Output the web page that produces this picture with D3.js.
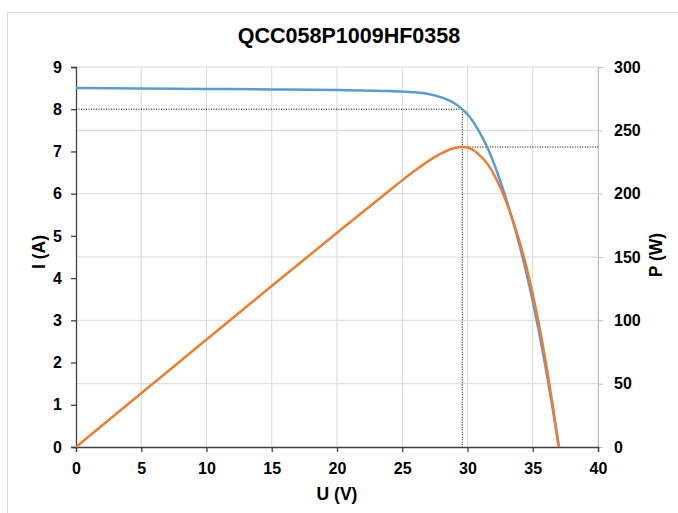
<!DOCTYPE html>
<html>
<head>
<meta charset="utf-8">
<script src="https://d3js.org/d3.v7.min.js"></script>
<style>
  body { margin: 0; background: #fff; }
  text { font-family: "Liberation Sans", Arial, sans-serif; font-weight: bold; fill: #000; }
</style>
</head>
<body>
<script type="text/javascript">
	"use strict";

	// values
	var voltage = [0, 5, 10, 15, 20, 24, 25, 26, 27, 28, 29, 29.6, 30, 30.8, 31.6, 32.6, 33, 34, 34.5, 35, 35.4, 36, 36.5, 37];
	var current = [8.50, 8.49, 8.48, 8.47, 8.455, 8.43, 8.42, 8.40, 8.36, 8.28, 8.14, 8.00, 7.88, 7.52, 7.04, 6.22, 5.84, 4.76, 4.14, 3.45, 2.85, 1.86, 0.96, 0];
	var power   = [0, 42.5, 84.8, 127.1, 169.1, 202.3, 210.5, 218.4, 225.7, 231.8, 236.1, 236.8, 236.4, 231.6, 222.5, 202.8, 192.7, 161.8, 142.8, 120.8, 100.9, 67.0, 35.0, 0];
	var mpp = { u: 29.6, i: 8.0, p: 236.8 };

	var uTicks = [0, 5, 10, 15, 20, 25, 30, 35, 40];
	var iTicks = [0, 1, 2, 3, 4, 5, 6, 7, 8, 9];
	var pTicks = [0, 50, 100, 150, 200, 250, 300];

	var W = 678, H = 513;
	var m = { left: 76, right: 598, top: 67, bottom: 447 };

	var svg = d3.select("body").append("svg")
		.attr("width", W)
		.attr("height", H);

	// chart frame (runs off the right and bottom edge)
	svg.append("rect")
		.attr("x", 7.5).attr("y", 12.5)
		.attr("width", 692).attr("height", 600)
		.style("fill", "none")
		.style("stroke", "#d9d9d9");

	var x = d3.scaleLinear().domain([0, 40]).range([m.left, m.right]);
	var yI = d3.scaleLinear().domain([0, 9]).range([m.bottom, m.top]);
	var yP = d3.scaleLinear().domain([0, 300]).range([m.bottom, m.top]);

	// gridlines
	svg.append("g").selectAll("line").data(uTicks.slice(1)).enter().append("line")
		.attr("x1", d => x(d)).attr("x2", d => x(d))
		.attr("y1", m.top).attr("y2", m.bottom)
		.style("stroke", "#d9d9d9").style("stroke-width", 1);
	svg.append("g").selectAll("line").data(pTicks.slice(1)).enter().append("line")
		.attr("x1", m.left).attr("x2", m.right)
		.attr("y1", d => yP(d)).attr("y2", d => yP(d))
		.style("stroke", "#d9d9d9").style("stroke-width", 1);

	// right axis (P)
	var axP = svg.append("g")
		.attr("transform", "translate(" + m.right + ",0)")
		.call(d3.axisRight(yP).tickValues(pTicks).tickSize(5).tickPadding(11));
	axP.select(".domain").style("stroke", "#bfbfbf");
	axP.selectAll(".tick line").style("stroke", "#bfbfbf");

	// bottom axis (U)
	var axU = svg.append("g")
		.attr("transform", "translate(0," + m.bottom + ")")
		.call(d3.axisBottom(x).tickValues(uTicks).tickSize(5).tickPadding(11));

	// left axis (I)
	var axI = svg.append("g")
		.attr("transform", "translate(" + m.left + ",0)")
		.call(d3.axisLeft(yI).tickValues(iTicks).tickSize(5).tickPadding(9));

	[axU, axI].forEach(function (a) {
		a.select(".domain").style("stroke", "#404040").style("stroke-width", 1.3);
		a.selectAll(".tick line").style("stroke", "#404040").style("stroke-width", 1.3);
	});
	[axU, axI, axP].forEach(function (a) {
		a.selectAll(".tick text")
			.style("font-family", "'Liberation Sans', Arial, sans-serif")
			.style("font-weight", "bold")
			.style("font-size", "16px")
			.style("fill", "#000");
	});

	// dotted guide lines to the maximum power point
	var dots = svg.append("g")
		.style("stroke", "#000").style("stroke-width", 1)
		.style("stroke-dasharray", "1,1.5").style("fill", "none");
	dots.append("line")
		.attr("x1", m.left).attr("x2", x(mpp.u))
		.attr("y1", yI(mpp.i)).attr("y2", yI(mpp.i));
	dots.append("line")
		.attr("x1", x(mpp.u)).attr("x2", x(mpp.u))
		.attr("y1", yI(mpp.i)).attr("y2", m.bottom);
	dots.append("line")
		.attr("x1", x(mpp.u)).attr("x2", m.right)
		.attr("y1", yP(mpp.p)).attr("y2", yP(mpp.p));

	// curves
	var ivLine = d3.line()
		.x((d, k) => x(voltage[k]))
		.y(d => yI(d))
		.curve(d3.curveMonotoneX);
	var pvLine = d3.line()
		.x((d, k) => x(voltage[k]))
		.y(d => yP(d))
		.curve(d3.curveMonotoneX);

	svg.append("path").datum(current)
		.attr("d", ivLine)
		.style("fill", "none").style("stroke", "#5b9bd5").style("stroke-width", 2.5);
	svg.append("path").datum(power)
		.attr("d", pvLine)
		.style("fill", "none").style("stroke", "#ed7d31").style("stroke-width", 2.5);

	// titles
	svg.append("text")
		.attr("x", 349).attr("y", 43)
		.attr("text-anchor", "middle")
		.style("font-size", "21.5px")
		.text("QCC058P1009HF0358");
	svg.append("text")
		.attr("x", 337).attr("y", 500)
		.attr("text-anchor", "middle")
		.style("font-size", "17.5px")
		.text("U (V)");
	svg.append("text")
		.attr("transform", "translate(45,252) rotate(-90)")
		.attr("text-anchor", "middle")
		.style("font-size", "17.5px")
		.text("I (A)");
	svg.append("text")
		.attr("transform", "translate(662,255) rotate(-90)")
		.attr("text-anchor", "middle")
		.style("font-size", "17.5px")
		.text("P (W)");
</script>
</body>
</html>
